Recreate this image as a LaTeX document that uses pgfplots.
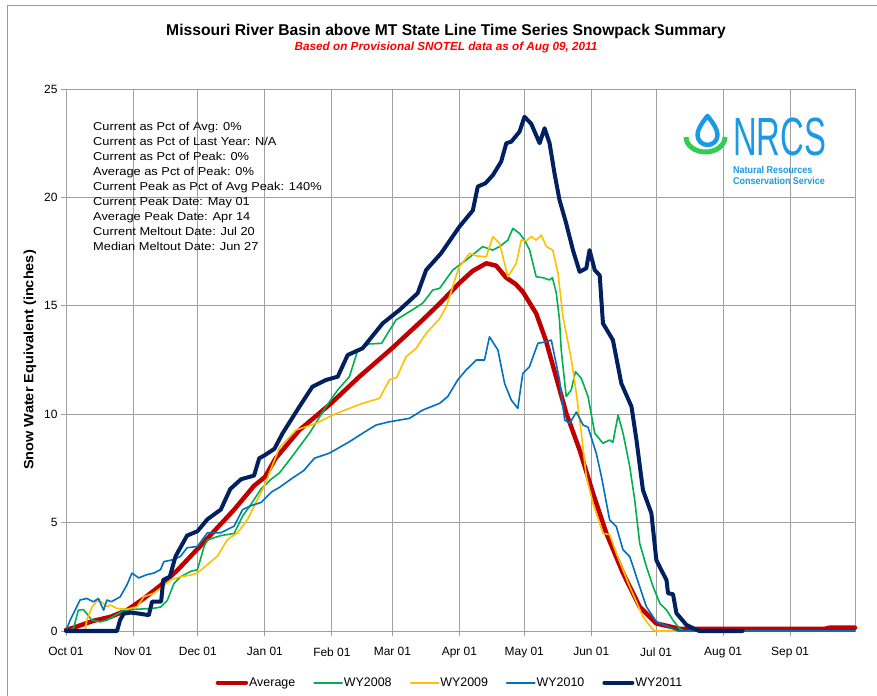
\documentclass[border=0pt]{standalone}
\usepackage{fontspec}
\setmainfont{Liberation Sans}
\usepackage{pgfplots}
\pgfplotsset{compat=1.18}
\definecolor{cavg}{HTML}{C00000}
\definecolor{c08}{HTML}{00B050}
\definecolor{c09}{HTML}{FFC000}
\definecolor{c10}{HTML}{0070C0}
\definecolor{c11}{HTML}{002060}
\definecolor{gridc}{HTML}{A0A0A0}
\definecolor{logob}{HTML}{1A9AE6}
\definecolor{logog}{HTML}{33CC55}
\begin{document}
\begin{tikzpicture}[x=1bp,y=1bp]
\useasboundingbox (0bp,0bp) rectangle (877bp,696bp);
\draw[gray!80, line width=1bp] (7bp,0bp) -- (7bp,690bp) -- (877bp,690bp);
\begin{axis}[
 at={(66bp,65bp)}, anchor=south west, width=789bp, height=542bp, scale only axis,
 xmin=0, xmax=365, ymin=0, ymax=25,
 xtick={0,31,61,92,123,151,182,212,243,273,304,335},
 xticklabels={Oct 01,Nov 01,Dec 01,Jan 01,Feb 01,Mar 01,Apr 01,May 01,Jun 01,Jul 01,Aug 01,Sep 01},
 ytick={0,5,10,15,20,25},
 grid=major, grid style={gridc, line width=0.9bp},
 axis line style={gridc, line width=0.9bp},
 tick style={gridc, line width=0.9bp},
 tick align=outside, major tick length=5bp, tick pos=left,
 ticklabel style={font=\fontsize{12}{12}\selectfont},
 xticklabel style={yshift=-8bp},
 /pgf/number format/assume math mode=true,
 legend columns=5,
 legend image code/.code={\draw[#1] (0bp,0bp) -- (28bp,0bp);},
 legend style={at={(axis description cs:0.486,-0.0955)}, anchor=center, draw=none, fill=none,
   font=\fontsize{12.5}{12.5}\selectfont, nodes={inner sep=1bp},
   /tikz/every even column/.append style={column sep=17bp}},
 every axis plot/.append style={line join=round, line cap=round},
 clip=false,
]
\addplot[cavg, line width=4.5bp] coordinates {
(0,0.05) (3.4,0.15) (12.7,0.47) (20.5,0.65) (28.2,0.96) (36,1.5) (43.7,2.1) (51.5,2.8) (61,3.8) (68.5,4.6) (77.8,5.6) (87,6.7) (92,7.1) (97,7.97) (108,9.27) (122.6,10.5) (135.7,11.73) (150.8,13.04) (165,14.35) (172.8,15.1) (182,16.05) (188,16.6) (194.4,16.96) (199,16.85) (203.6,16.3) (208,16.0) (211.3,15.65) (217.5,14.65) (222,13.4) (231.4,10.05) (237.6,8.35) (243.8,6.35) (250,4.5) (257.7,2.66) (265.4,1.12) (273,0.35) (284,0.1) (351,0.1) (353,0.15) (365,0.15)
};
\addlegendentry{Average}
\addplot[c08, line width=1.6bp] coordinates {
(0,0) (3.4,0.1) (5.7,0.96) (8,0.99) (9.6,0.8) (12,0.5) (15.8,0.42) (18.9,0.5) (22.8,0.73) (26.7,0.96) (32,1.0) (36,1.02) (40,1.04) (43.7,1.1) (46.8,1.4) (50,2.2) (53,2.5) (57.7,2.75) (60.8,2.83) (63.9,3.9) (65.4,4.2) (71.6,4.4) (77.8,4.5) (81.7,5.3) (85.6,5.85) (90.2,6.55) (94.9,7.0) (98.8,7.3) (104,7.97) (112.6,9.12) (120.3,10.35) (125.7,11.12) (131.1,11.73) (135,12.96) (140.3,13.24) (146,13.27) (148.8,13.73) (152.7,14.35) (158.9,14.73) (165,15.12) (169.7,15.73) (172.8,15.8) (178.9,16.65) (185.1,17.11) (192.8,17.73) (197.4,17.57) (200.6,17.73) (204.4,18.03) (206.7,18.57) (209.8,18.34) (212.1,18.03) (214.5,17.57) (217.5,16.34) (220.5,16.3) (223.7,16.19) (225,16.3) (226.8,15.6) (228.3,14.35) (229.1,12.96) (231.4,10.81) (233.7,11.12) (235.7,11.96) (238.4,11.65) (241.5,10.81) (244.6,9.12) (248.4,8.66) (251.5,8.81) (253,8.7) (255.4,9.96) (257.7,9.12) (260.8,7.58) (263.1,6.04) (265.4,4.04) (268.5,2.97) (271.6,2.04) (274.7,1.28) (277.8,0.97) (280.8,0.5) (283.9,0.1) (286,0) (365,0)
};
\addlegendentry{WY2008}
\addplot[c09, line width=1.6bp] coordinates {
(0,0) (8.8,0) (9.6,0.5) (12,1.1) (14.3,1.4) (16.6,1.33) (18.9,1.12) (20.5,1.2) (23.6,1.04) (28.2,1.0) (32.9,1.12) (36,1.58) (40.6,1.74) (43.7,1.97) (48.4,2.36) (53,2.5) (57.7,2.58) (60.8,2.67) (65.4,3.06) (70,3.45) (74.7,4.22) (79.4,4.53) (84,5.15) (88.7,6.09) (91.8,6.7) (94.9,7.5) (98.7,8.45) (106.4,9.27) (115.7,9.58) (123.4,9.96) (131.1,10.27) (137.2,10.5) (145,10.73) (149.6,11.58) (153,11.7) (157.3,12.65) (162,13.04) (166.6,13.73) (172.8,14.4) (175.9,14.96) (178.9,15.88) (180.5,16.4) (182,16.8) (186.7,17.42) (190,17.3) (194.4,17.26) (197.5,18.19) (200.6,17.88) (204.4,16.34) (208.3,16.96) (210.6,18.03) (213,18.0) (215.2,18.19) (217.5,18.03) (219.9,18.26) (222.2,17.73) (225.2,17.57) (227.6,16.5) (229.9,14.5) (231.4,13.73) (233.8,12.5) (236.1,10.96) (238.4,9.12) (240.7,7.12) (243.8,5.89) (248.4,4.5) (251.5,4.45) (254.6,3.58) (260.8,2.04) (266.9,0.66) (271.6,0.05) (273,0) (365,0)
};
\addlegendentry{WY2009}
\addplot[c10, line width=1.6bp] coordinates {
(0,0) (1.9,0.5) (4.2,0.96) (6.5,1.43) (9.6,1.5) (12.7,1.35) (15,1.5) (17.4,0.96) (18.9,1.43) (21,1.35) (25.1,1.58) (28.2,2.13) (30.5,2.67) (33.6,2.45) (37.5,2.6) (40.6,2.67) (43.7,2.83) (45.3,3.2) (50,3.3) (53,3.45) (56,3.84) (60.8,3.9) (65.4,4.53) (71.6,4.53) (77.8,4.84) (81.7,5.6) (85.6,5.78) (90.2,5.93) (94.9,6.4) (98.8,6.63) (104,7.0) (110,7.4) (114.9,7.97) (121.8,8.2) (131.1,8.73) (137.2,9.12) (143.4,9.5) (149.6,9.65) (158.9,9.81) (165,10.19) (172.8,10.5) (176.6,10.81) (181.2,11.58) (185.1,12.04) (189.8,12.5) (193.6,12.5) (195.9,13.57) (199.8,12.96) (202.9,11.42) (206,10.65) (209,10.27) (211.3,11.88) (214.4,12.19) (218.3,13.27) (222.2,13.34) (224.5,13.42) (228.3,11.58) (230.7,9.73) (233,9.58) (236.1,10.1) (239.2,9.5) (241.5,9.4) (245.3,8.2) (247.7,7.12) (251.5,5.12) (254.6,4.81) (257.7,3.74) (260.8,3.43) (265.4,2.04) (268.5,1.12) (273.1,0.43) (280.8,0.1) (283,0) (365,0)
};
\addlegendentry{WY2010}
\addplot[c11, line width=4bp] coordinates {
(0,0) (23.6,0) (25,0.5) (26.7,0.8) (30,0.85) (34,0.8) (38.3,0.73) (39.8,1.35) (44,1.35) (45,2.36) (48,2.5) (50.7,3.45) (56,4.4) (60.8,4.6) (65.4,5.15) (71.6,5.6) (76,6.55) (81,7.0) (87,7.17) (89.4,7.97) (91.8,8.1) (96.4,8.4) (100.2,9.12) (108,10.35) (114,11.27) (120.3,11.58) (125.7,11.73) (130.3,12.73) (137.2,13.04) (146.5,14.19) (154.2,14.8) (162.7,15.58) (166.6,16.65) (173.5,17.42) (182,18.65) (188.2,19.4) (190.5,20.5) (194,20.65) (197.5,21.03) (201.3,21.65) (203.7,22.5) (206,22.57) (209.8,23.03) (212.1,23.72) (215.2,23.4) (219.1,22.5) (221.4,23.19) (223.7,22.5) (226,21.1) (228.3,19.88) (231.4,18.8) (234.5,17.57) (237.6,16.57) (240.7,16.73) (242.2,17.57) (244.6,16.65) (246.9,16.4) (248.4,14.19) (253,13.42) (256.9,11.42) (261.6,10.35) (263.9,8.81) (266.9,6.5) (270.8,5.43) (273.1,3.27) (275.4,2.81) (277.8,2.35) (278.5,1.74) (280.8,1.7) (282.4,0.82) (287,0.28) (291.7,0.05) (293,0) (313,0)
};
\addlegendentry{WY2011}
\end{axis}
% titles
\node[font=\fontsize{15.7}{15.7}\selectfont\bfseries] at (446bp,665bp) {Missouri River Basin above MT State Line Time Series Snowpack Summary};
\node[font=\fontsize{11.8}{11.8}\selectfont\bfseries\itshape, text=red] at (446bp,649bp) {Based on Provisional SNOTEL data as of Aug 09, 2011};
\node[font=\fontsize{13.5}{13.5}\selectfont\bfseries, rotate=90, xscale=1.08] at (30bp,336bp) {Snow Water Equivalent (inches)};
% text box
\foreach \t [count=\i from 0] in {Current as Pct of Avg: 0\%, Current as Pct of Last Year: N/A, Current as Pct of Peak: 0\%, Average as Pct of Peak: 0\%, Current Peak as Pct of Avg Peak: 140\%, Current Peak Date: May 01, Average Peak Date: Apr 14, Current Meltout Date: Jul 20, Median Meltout Date: Jun 27}
  \node[anchor=base west, inner sep=0pt, font=\fontsize{11.5}{11.5}\selectfont, xscale=1.12] at (93bp,{(565.2-15*\i)*1bp}) {\t};
% NRCS logo
\draw[logog, line width=5bp] (686bp,559bp) arc[start angle=180, end angle=360, x radius=19.5bp, y radius=15bp];
\draw[logob, line width=4.5bp, line join=round] (707.5bp,580bp) .. controls (701bp,572bp) and (697.5bp,566bp) .. (697.5bp,561bp) arc[start angle=180, end angle=360, radius=10bp] .. controls (717.5bp,566bp) and (714bp,572bp) .. (707.5bp,580bp) -- cycle;
\node[anchor=base west, inner sep=0pt, text depth=0pt, text=logob, font=\fontsize{54}{54}\selectfont, xscale=0.61] at (733bp,540bp) {NRCS};
\node[anchor=base west, inner sep=0pt, text=logob, font=\fontsize{10}{10}\selectfont\bfseries, xscale=0.9] at (733bp,522bp) {Natural Resources};
\node[anchor=base west, inner sep=0pt, text=logob, font=\fontsize{10}{10}\selectfont\bfseries, xscale=0.9] at (733bp,511bp) {Conservation Service};
\end{tikzpicture}
\end{document}
